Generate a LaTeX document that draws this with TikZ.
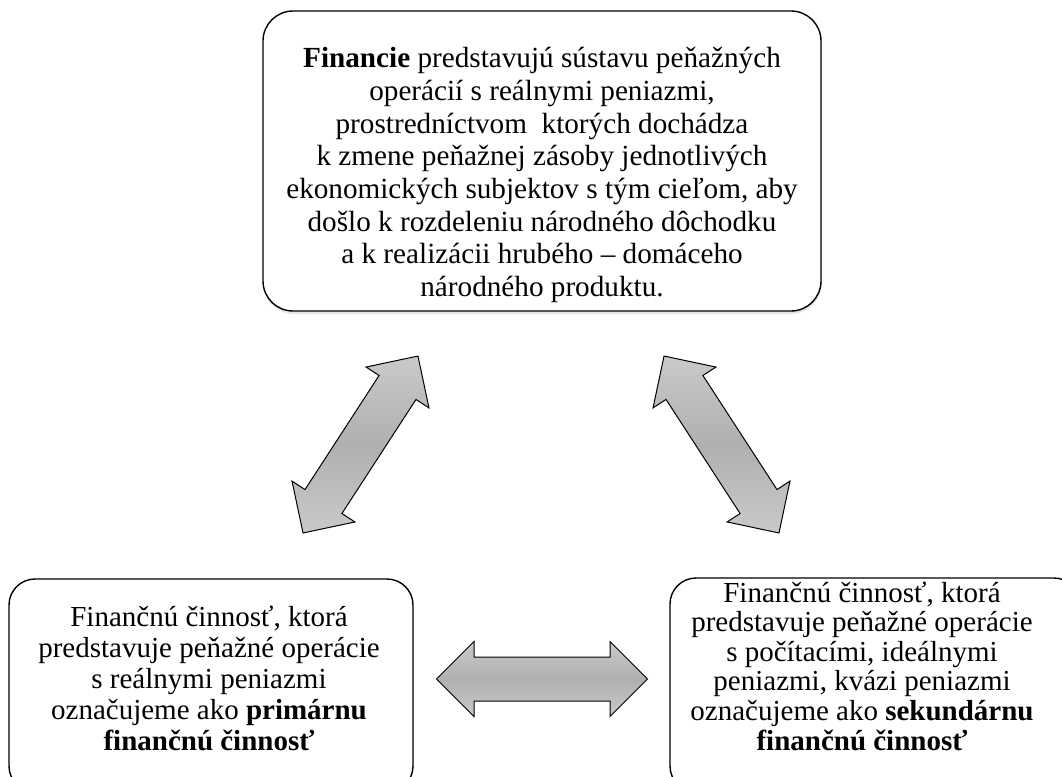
\documentclass[tikz,border=0pt]{standalone}
\usepackage{fontspec}
\setmainfont{Liberation Serif}
\usetikzlibrary{shapes.arrows,shadows}

\begin{document}
\begin{tikzpicture}[x=1pt,y=-1pt,
    box/.style={draw,line width=1.4pt,rounded corners=#1,fill=white,
      drop shadow={shadow xshift=0.5pt,shadow yshift=-3pt,opacity=.2}},
    box/.default=26pt,
    txt/.style={align=center,inner sep=0pt},
    fatarrow/.style={double arrow,draw,line width=1pt,
      double arrow tip angle=90,double arrow head extend=15.5pt,
      double arrow head indent=0pt,inner xsep=0pt,inner ysep=21.5pt,
      minimum height=211pt,
      top color=gray!42,bottom color=gray!42,middle color=gray!62}]
    \useasboundingbox (0,0) rectangle (1062,776);
    % boxes
    \node[box=30pt,minimum width=558pt,minimum height=300pt] (fin) at (542,161) {};
    \node[box,minimum width=404pt,minimum height=213pt] (prim) at (211,685.5) {};
    \node[box,minimum width=410pt,minimum height=214pt] (sek) at (875,685) {};
    % texts
    \node[txt,font=\fontsize{29.2}{32.7}\selectfont] (fintext) at (542,175)
      {\textbf{Financie} predstavujú sústavu peňažných\\
       operácií s reálnymi peniazmi,\\
       prostredníctvom\ \ ktorých dochádza\\
       k zmene peňažnej zásoby jednotlivých\\
       ekonomických subjektov s tým cieľom, aby\\
       došlo k rozdeleniu národného dôchodku\\
       a k realizácii hrubého – domáceho\\
       národného produktu.};
    \node[txt,font=\fontsize{29}{31}\selectfont] (primtext) at (209,678)
      {Finančnú činnosť, ktorá\\
       predstavuje peňažné operácie\\
       s reálnymi peniazmi\\
       označujeme ako \textbf{primárnu}\\
       \textbf{finančnú činnosť}};
    \node[txt,font=\fontsize{29}{29.6}\selectfont] (sektext) at (862,666)
      {Finančnú činnosť, ktorá\\
       predstavuje peňažné operácie\\
       s počítacími, ideálnymi\\
       peniazmi, kvázi peniazmi\\
       označujeme ako \textbf{sekundárnu}\\
       \textbf{finančnú činnosť}};
    % arrows
    \node[fatarrow,rotate=57] (finprim) at (360.5,444.5) {};
    \node[fatarrow,rotate=-57] (finsek) at (721.5,444.5) {};
    \node[fatarrow] (primsek) at (542,679) {};
\end{tikzpicture}
\end{document}
